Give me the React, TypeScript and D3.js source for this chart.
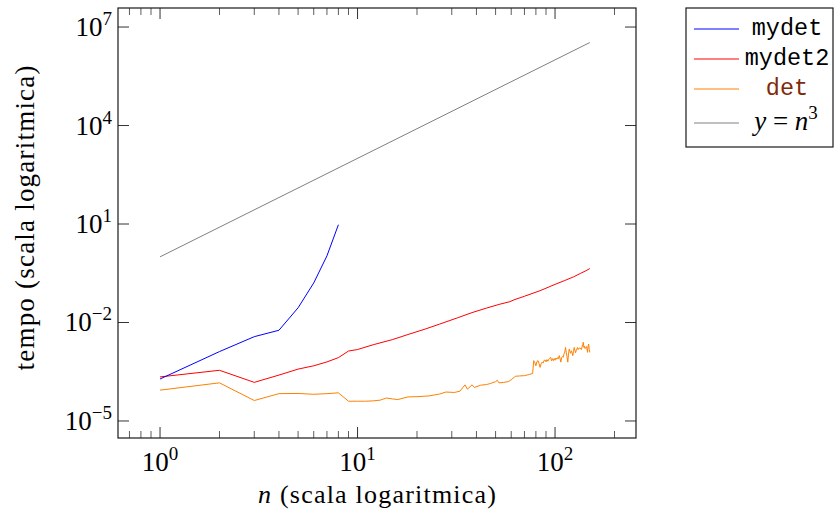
import React from 'react';
import * as d3 from 'd3';

// ---- data ----
const nMydet = [1, 2, 3, 4, 5, 6, 7, 8];
const mydet = [1.9e-4, 1.3e-3, 3.7e-3, 5.8e-3, 2.8e-2, 0.16, 1.07, 9.5];

const nMydet2 = [1, 2, 3, 4, 5, 6, 7, 8, 9, 10, 12, 15, 18, 22, 26, 32, 38, 45, 52, 59, 62, 70, 84, 100, 112, 124, 135, 145, 150];
const mydet2 = [2.2e-4, 3.5e-4, 1.5e-4, 2.5e-4, 3.8e-4, 4.8e-4, 6.3e-4, 8.5e-4, 1.35e-3, 1.5e-3, 2.1e-3, 3.0e-3, 4.3e-3, 6.3e-3, 8.9e-3, 1.38e-2, 2.0e-2, 2.75e-2, 3.55e-2, 4.3e-2, 4.9e-2, 6.3e-2, 9.3e-2, 0.145, 0.19, 0.245, 0.316, 0.39, 0.44];

const nDet = [1, 2, 3, 4, 5, 6, 7, 8, 9, 10, 11, 12, 13, 14, 15, 16, 18, 20, 23, 26, 28, 31, 33, 35, 36, 38, 39, 42, 45, 47, 50, 51, 52, 55, 58, 60, 63, 66, 70, 74, 77,
  78, 79, 80, 81, 82, 83, 84, 85, 86, 87, 88, 89, 90, 91, 92, 93, 94, 95, 96, 97, 98, 99, 100,
  101, 102, 103, 104, 105, 106, 107, 108, 109, 110, 111, 112, 113, 114, 115, 116, 117, 118, 119, 120,
  121, 122, 123, 124, 125, 126, 127, 128, 129, 130, 131, 132, 133, 134, 135, 136, 137, 138, 139, 140,
  141, 142, 143, 144, 145, 146, 147, 148, 149, 150];
const det = [8.7e-5, 1.45e-4, 4.2e-5, 6.8e-5, 6.9e-5, 6.5e-5, 6.8e-5, 7.2e-5, 4.0e-5, 4.0e-5, 4.0e-5, 4.1e-5, 4.3e-5, 5.0e-5, 4.7e-5, 4.5e-5, 5.4e-5, 5.5e-5, 5.8e-5, 6.6e-5, 7.6e-5, 7.4e-5, 8.1e-5, 1.26e-4, 9.3e-5, 1.26e-4, 1.05e-4, 1.23e-4, 1.29e-4, 1.38e-4, 1.58e-4, 1.74e-4, 1.45e-4, 1.5e-4, 1.58e-4, 1.8e-4, 2.3e-4, 2.35e-4, 2.4e-4, 2.6e-4, 2.8e-4,
  6.9e-4, 6.0e-4, 4.8e-4, 6.5e-4, 6.9e-4, 5.6e-4, 4.3e-4, 5.5e-4, 6.2e-4, 5.8e-4, 7.0e-4, 7.2e-4, 6.3e-4, 7.4e-4, 6.6e-4, 7.6e-4, 8.1e-4, 8.7e-4, 6.8e-4, 7.9e-4, 6.9e-4, 8.0e-4, 7.1e-4,
  8.3e-4, 7.6e-4, 8.5e-4, 7.8e-4, 9.8e-4, 8.0e-4, 6.2e-4, 8.5e-4, 9.2e-4, 8.7e-4, 1.1e-3, 1.25e-3, 1.74e-3, 1.2e-3, 9.0e-4, 6.2e-4, 1.1e-3, 1.55e-3, 1.3e-3, 1.15e-3,
  1.38e-3, 1.2e-3, 9.8e-4, 1.3e-3, 1.74e-3, 1.45e-3, 1.2e-3, 1.38e-3, 1.55e-3, 1.74e-3, 1.5e-3, 1.62e-3, 1.7e-3, 1.58e-3, 1.66e-3, 1.5e-3, 1.8e-3, 2.1e-3, 2.5e-3, 1.74e-3,
  1.9e-3, 1.6e-3, 1.7e-3, 1.85e-3, 1.66e-3, 1.23e-3, 1.9e-3, 2.2e-3, 1.5e-3, 1.23e-3];

const nCube = [1, 150];
const cube = [1, 3375000];

const xTicks = [1, 10, 100];
const xTickExp = ['0', '1', '2'];
const yTicks = [1e-5, 1e-2, 1e1, 1e4, 1e7];
const yTickExp = ['\u22125', '\u22122', '1', '4', '7'];

const legendLabels = ['mydet', 'mydet2', 'det'];
const colors = ['#0000ff', '#ff0000', '#ff8000', '#808080'];

export default function App() {
  const W = 835, H = 515;
  const left = 118, right = 636, top = 8, bottom = 438;
  const x = d3.scaleLog().domain([0.6125, 257]).range([left, right]);
  const y = d3.scaleLog().domain([3.03e-6, 3.8e7]).range([bottom, top]);

  const mk = (ns: number[], vs: number[]) =>
    d3.line<number>().x((_, i) => x(ns[i])).y((v) => y(v))(vs) || '';

  const minor: number[] = [];
  for (let e = -1; e <= 2; e++) {
    for (let k = 2; k <= 9; k++) {
      const v = k * Math.pow(10, e);
      if (v > x.domain()[0] && v < x.domain()[1]) minor.push(v);
    }
  }

  const serif = "'Liberation Serif', 'Times New Roman', serif";
  const mono = "'Liberation Mono', 'DejaVu Sans Mono', monospace";
  const tickCol = '#333';
  const legendRows = [29, 59, 89, 123];

  return (
    <svg width={W} height={H} style={{ position: 'absolute', left: 0, top: 0, background: '#fff' }}>
      {/* series */}
      <path d={mk(nCube, cube)} fill="none" stroke={colors[3]} strokeWidth={1} />
      <path d={mk(nDet, det)} fill="none" stroke={colors[2]} strokeWidth={1} strokeLinejoin="round" />
      <path d={mk(nMydet2, mydet2)} fill="none" stroke={colors[1]} strokeWidth={1} />
      <path d={mk(nMydet, mydet)} fill="none" stroke={colors[0]} strokeWidth={1} />

      {/* ticks */}
      {xTicks.map((t) => (
        <g key={'xt' + t}>
          <line x1={x(t)} x2={x(t)} y1={bottom} y2={bottom - 11} stroke={tickCol} strokeWidth={1} />
          <line x1={x(t)} x2={x(t)} y1={top} y2={top + 11} stroke={tickCol} strokeWidth={1} />
        </g>
      ))}
      {minor.map((t) => (
        <g key={'xm' + t}>
          <line x1={x(t)} x2={x(t)} y1={bottom} y2={bottom - 7} stroke={tickCol} strokeWidth={0.8} />
          <line x1={x(t)} x2={x(t)} y1={top} y2={top + 7} stroke={tickCol} strokeWidth={0.8} />
        </g>
      ))}
      {yTicks.map((t) => (
        <g key={'yt' + t}>
          <line x1={left} x2={left + 11} y1={y(t)} y2={y(t)} stroke={tickCol} strokeWidth={1} />
          <line x1={right} x2={right - 11} y1={y(t)} y2={y(t)} stroke={tickCol} strokeWidth={1} />
        </g>
      ))}

      {/* axis box */}
      <rect x={left} y={top} width={right - left} height={bottom - top} fill="none" stroke="#1a1a1a" strokeWidth={1.2} />

      {/* tick labels */}
      {xTicks.map((t, i) => (
        <text key={'xl' + t} x={x(t)} y={471} textAnchor="middle" fontFamily={serif} fontSize={27} fill="#000">
          10<tspan dy={-11} fontSize={19}>{xTickExp[i]}</tspan>
        </text>
      ))}
      {yTicks.map((t, i) => (
        <text key={'yl' + t} x={112} y={y(t) + 9} textAnchor="end" fontFamily={serif} fontSize={27} fill="#000">
          10<tspan dy={-11} fontSize={19}>{yTickExp[i]}</tspan>
        </text>
      ))}

      {/* axis labels */}
      <text x={(left + right) / 2} y={503} textAnchor="middle" fontFamily={serif} fontSize={26}
        textLength={238} lengthAdjust="spacing" fill="#000">
        <tspan fontStyle="italic">n</tspan> (scala logaritmica)
      </text>
      <text transform={`translate(34, ${(top + bottom) / 2 - 5}) rotate(-90)`} textAnchor="middle" fontFamily={serif}
        fontSize={27} textLength={305} lengthAdjust="spacing" fill="#000">
        tempo (scala logaritmica)
      </text>

      {/* legend */}
      <rect x={686} y={8} width={147} height={139} fill="#fff" stroke="#1a1a1a" strokeWidth={1.2} />
      {legendRows.map((ry, i) => (
        <line key={'ll' + i} x1={694} x2={739} y1={ry} y2={ry} stroke={colors[i]} strokeWidth={1} />
      ))}
      {legendLabels.map((lab, i) => (
        <text key={'lt' + i} x={787} y={legendRows[i] + 6} textAnchor="middle" fontFamily={mono} fontSize={23.5}
          fill={i === 2 ? '#7f2a0a' : '#000'}>
          {lab}
        </text>
      ))}
      <text x={786} y={legendRows[3] + 7} textAnchor="middle" fontFamily={serif} fontSize={27} fill="#000">
        <tspan fontStyle="italic">y</tspan> = <tspan fontStyle="italic">n</tspan>
        <tspan dy={-11} fontSize={19}>3</tspan>
      </text>
    </svg>
  );
}
